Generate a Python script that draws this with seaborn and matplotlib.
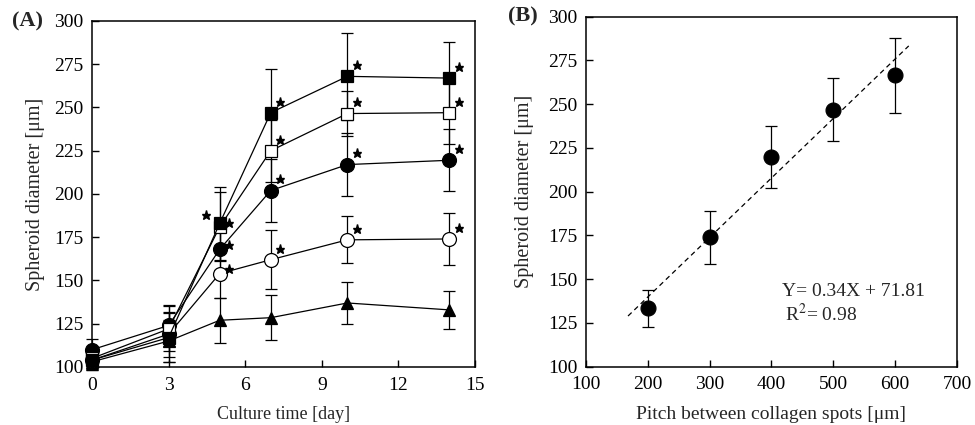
import numpy as np
import seaborn as sns
import matplotlib.pyplot as plt
from matplotlib.transforms import ScaledTranslation

# ---- panel A: spheroid growth over culture time ----
days = [0, 3, 5, 7, 10, 14]

filled_square = [104, 117, 183, 247, 268, 267]
filled_square_err = [6, 14, 21, 25, 25, 21]
open_square = [105, 122, 181, 225, 246.5, 247]
open_square_err = [6, 13, 20, 18, 13, 18]
filled_circle = [110, 124, 168, 202, 217, 219.5]
filled_circle_err = [6, 12, 12, 18, 18, 18]
open_circle = [104, 119, 154, 162, 173.5, 174]
open_circle_err = [5, 13, 14, 17, 13.5, 15]
triangle = [103, 115, 127, 128.5, 137, 133]
triangle_err = [5, 12, 13, 13, 12, 11]

# days marked significant (*) for each series
filled_square_sig = [5, 7, 10, 14]
open_square_sig = [5, 7, 10, 14]
filled_circle_sig = [5, 7, 10, 14]
open_circle_sig = [5, 7, 10, 14]
triangle_sig = []

# ---- panel B: diameter vs pitch ----
pitch = [200, 300, 400, 500, 600]
diameter = [133.4, 173.9, 219.8, 246.7, 266.5]
diameter_err = [10.5, 15, 17.5, 18, 21.5]
fit_slope = 0.34
fit_intercept = 71.81
fit_r2 = 0.98
fit_range = [168, 622]

sns.set_theme(style="ticks")
plt.rcParams["font.family"] = ["Liberation Serif", "DejaVu Serif"]
plt.rcParams["mathtext.fontset"] = "stix"

fig = plt.figure(figsize=(9.75, 4.25), dpi=100)
ax_a = fig.add_axes([0.0944, 0.1365, 0.3928, 0.8141])
ax_b = fig.add_axes([0.601, 0.1373, 0.3805, 0.8235])

series = [
    ("triangle", triangle, triangle_err, "^", "black", triangle_sig),
    ("open_circle", open_circle, open_circle_err, "o", "white", open_circle_sig),
    ("filled_circle", filled_circle, filled_circle_err, "o", "black", filled_circle_sig),
    ("open_square", open_square, open_square_err, "s", "white", open_square_sig),
    ("filled_square", filled_square, filled_square_err, "s", "black", filled_square_sig),
]

for i, (name, vals, err, mk, fc, sig) in enumerate(series):
    ax_a.errorbar(days, vals, yerr=err, fmt="none", ecolor="black",
                  elinewidth=0.9, capsize=4, capthick=0.9, zorder=2, clip_on=False)
    sns.lineplot(x=days, y=vals, ax=ax_a, color="black", lw=0.9, marker=mk,
                 markersize=9 if mk != "o" else 10, markerfacecolor=fc,
                 markeredgecolor="black", markeredgewidth=0.9,
                 zorder=3 + i, clip_on=False)
    # significance stars, placed just beside each marker
    for d in sig:
        v = vals[days.index(d)]
        if d == 5 and name == "filled_square":
            off = (-10, 6)
        elif d == 5:
            off = (7, 3)
        else:
            off = (7, 8)
        shift = ScaledTranslation(off[0] / 72, off[1] / 72, fig.dpi_scale_trans)
        ax_a.plot(d, v, marker="*", color="black", markersize=6.5, ls="none",
                  transform=ax_a.transData + shift, zorder=10, clip_on=False)

ax_a.set_xlim(0, 15)
ax_a.set_ylim(100, 300)
ax_a.set_xticks(range(0, 16, 3))
ax_a.set_yticks(range(100, 301, 25))
ax_a.set_xlabel("Culture time [day]", fontsize=13, labelpad=9)
ax_a.set_ylabel("Spheroid diameter [\u03bcm]", fontsize=14.5, labelpad=7)
ax_a.text(-0.21, 1.0, "(A)", transform=ax_a.transAxes, fontsize=16,
          fontweight="bold", ha="left", va="center")

# panel B
ax_b.errorbar(pitch, diameter, yerr=diameter_err, fmt="none", ecolor="black",
              elinewidth=0.9, capsize=4, capthick=0.9, zorder=2)
sns.scatterplot(x=pitch, y=diameter, ax=ax_b, color="black", s=115,
                edgecolor="black", zorder=3)
fx = np.array(fit_range)
sns.lineplot(x=fx, y=fit_slope * fx + fit_intercept, ax=ax_b, color="black",
             lw=0.9, linestyle=(0, (4, 3)), zorder=1)
ax_b.text(417, 143, f"Y= {fit_slope}X + {fit_intercept}", fontsize=14,
          ha="left", va="center")
ax_b.text(422, 130, f"R$^2$= {fit_r2}", fontsize=14, ha="left", va="center")
ax_b.set_xlim(100, 700)
ax_b.set_ylim(100, 300)
ax_b.set_xticks(range(100, 701, 100))
ax_b.set_yticks(range(100, 301, 25))
ax_b.set_xlabel("Pitch between collagen spots [\u03bcm]", fontsize=14, labelpad=9)
ax_b.set_ylabel("Spheroid diameter [\u03bcm]", fontsize=14.5, labelpad=10)
ax_b.text(-0.21, 1.0, "(B)", transform=ax_b.transAxes, fontsize=16,
          fontweight="bold", ha="left", va="center")

for ax in (ax_a, ax_b):
    ax.tick_params(direction="in", length=5, width=1, labelsize=14,
                   colors="black")
    ax.tick_params(axis="x", pad=7)
    ax.tick_params(axis="y", pad=6)
    for s in ax.spines.values():
        s.set_linewidth(1.1)
        s.set_color("black")
    ax.set_facecolor("white")

fig.savefig("out.png", dpi=100, facecolor="white")
